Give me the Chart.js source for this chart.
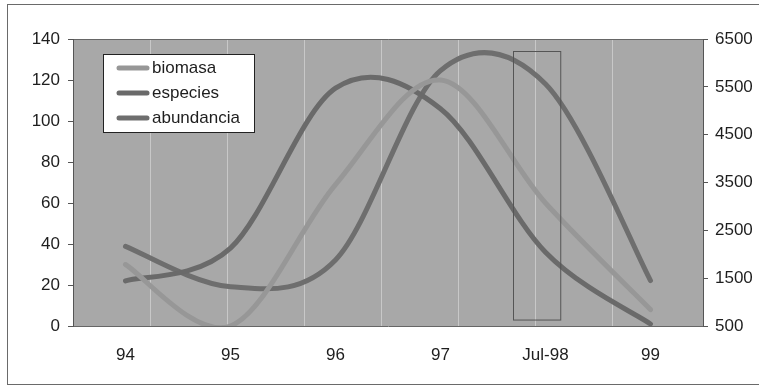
<!DOCTYPE html>
<html>
<head>
<meta charset="utf-8">
<script src="https://cdn.jsdelivr.net/npm/chart.js@4.4.1/dist/chart.umd.min.js"></script>
<style>
  html, body { margin: 0; padding: 0; background: #fff; overflow: hidden; }
  #wrap { position: relative; width: 759px; height: 388px; }
  #frame {
    position: absolute; left: 7px; top: 4px; width: 800px; height: 381px;
    border: 1px solid #6a6a6a; box-sizing: border-box;
  }
  canvas { position: absolute; left: 0; top: 0; }
</style>
</head>
<body>
<div id="wrap">
  <div id="frame"></div>
  <canvas id="chart" width="759" height="388"></canvas>
</div>
<script>
// años del muestreo
const categories = ['94', '95', '96', '97', 'Jul-98', '99'];

// eje izquierdo
const biomasa = [30, 0, 69, 120, 60, 8];
const especies = [22, 38, 116, 106, 36, 1];

// eje derecho
const abundancia = [2165, 1320, 1880, 5840, 5560, 1450];

const leftTicks = [0, 20, 40, 60, 80, 100, 120, 140];
const rightTicks = [500, 1500, 2500, 3500, 4500, 5500, 6500];

// recuadro sobre Jul-98 (índice de categoría, valor del eje izquierdo)
const boxX = [3.69, 4.14];
const boxY = [3, 134];

const axisFont = { family: 'Liberation Sans, Arial, sans-serif', size: 17 };
const textColor = '#1e1e1e';

// fondo gris del área de trazado
const plotBackground = {
  id: 'plotBackground',
  beforeDraw(chart) {
    const { ctx, chartArea: a } = chart;
    ctx.save();
    ctx.fillStyle = '#a8a8a8';
    ctx.fillRect(a.left, a.top, a.right - a.left, a.bottom - a.top);
    ctx.restore();
  }
};

// suavizado Catmull-Rom uniforme: puntos de control a 1/6 de la diferencia entre vecinos
const uniformSpline = {
  id: 'uniformSpline',
  beforeDatasetDraw(chart, args) {
    const pts = args.meta.data;
    const line = args.meta.dataset;
    const n = pts.length;
    for (let i = 0; i < n; i++) {
      const prev = pts[Math.max(i - 1, 0)];
      const next = pts[Math.min(i + 1, n - 1)];
      const dx = (next.x - prev.x) / 6;
      const dy = (next.y - prev.y) / 6;
      pts[i].cp1x = pts[i].x - dx;
      pts[i].cp1y = pts[i].y - dy;
      pts[i].cp2x = pts[i].x + dx;
      pts[i].cp2y = pts[i].y + dy;
    }
    line._pointsUpdated = true;
    line._path = undefined;
  }
};

// rectángulo fino alrededor de Jul-98
const highlightBox = {
  id: 'highlightBox',
  afterDatasetsDraw(chart) {
    const { ctx, scales } = chart;
    const x0 = scales.x.getPixelForValue(boxX[0]);
    const x1 = scales.x.getPixelForValue(boxX[1]);
    const y0 = scales.y.getPixelForValue(boxY[1]);
    const y1 = scales.y.getPixelForValue(boxY[0]);
    ctx.save();
    ctx.strokeStyle = '#555';
    ctx.lineWidth = 1;
    ctx.strokeRect(Math.round(x0) + 0.5, Math.round(y0) + 0.5, x1 - x0, y1 - y0);
    ctx.restore();
  }
};

// leyenda dentro del área de trazado
const boxLegend = {
  id: 'boxLegend',
  afterDraw(chart) {
    const { ctx, chartArea: a } = chart;
    const left = a.left + 30, top = a.top + 15, w = 151, h = 78;
    ctx.save();
    ctx.fillStyle = '#fff';
    ctx.fillRect(left, top, w, h);
    ctx.strokeStyle = '#222';
    ctx.lineWidth = 1;
    ctx.strokeRect(left + 0.5, top + 0.5, w, h);
    ctx.font = `${axisFont.size}px ${axisFont.family}`;
    ctx.textBaseline = 'middle';
    chart.data.datasets.forEach((ds, i) => {
      const y = top + 14 + i * 25;
      ctx.strokeStyle = ds.borderColor;
      ctx.lineWidth = 5;
      ctx.lineCap = 'round';
      ctx.beginPath();
      ctx.moveTo(left + 16, y);
      ctx.lineTo(left + 44, y);
      ctx.stroke();
      ctx.fillStyle = textColor;
      ctx.fillText(ds.label, left + 49, y);
    });
    ctx.restore();
  }
};

const lineStyle = {
  borderWidth: 5,
  pointRadius: 0,
  tension: 0.4,
  borderCapStyle: 'round',
  borderJoinStyle: 'round',
  fill: false
};

new Chart(document.getElementById('chart').getContext('2d'), {
  type: 'line',
  data: {
    labels: categories,
    datasets: [
      { label: 'biomasa', data: biomasa, borderColor: '#979797', yAxisID: 'y', ...lineStyle },
      { label: 'especies', data: especies, borderColor: '#6a6a6a', yAxisID: 'y', ...lineStyle },
      { label: 'abundancia', data: abundancia, borderColor: '#6e6e6e', yAxisID: 'y2', ...lineStyle }
    ]
  },
  options: {
    responsive: false,
    animation: false,
    layout: { padding: { top: 39, left: 0, right: 0, bottom: 0 } },
    plugins: {
      legend: { display: false },
      tooltip: { enabled: false }
    },
    scales: {
      x: {
        type: 'category',
        offset: true,
        grid: { display: false },
        border: { display: true, color: '#666', width: 1 },
        ticks: { color: textColor, font: axisFont, padding: 11, maxRotation: 0 },
        afterFit: s => { s.height = 62; }
      },
      xg: {
        type: 'linear',
        position: 'top',
        min: 0,
        max: 8.18,
        grid: { color: 'rgba(225,225,225,0.55)', lineWidth: 1, drawTicks: false },
        border: { display: true, color: '#666', width: 1 },
        ticks: { display: false, stepSize: 1 },
        afterFit: s => { s.height = 0; }
      },
      y: {
        position: 'left',
        min: 0,
        max: 140,
        afterBuildTicks: s => { s.ticks = leftTicks.map(v => ({ value: v })); },
        grid: { drawOnChartArea: false, drawTicks: true, tickLength: 5, color: '#555' },
        border: { display: true, color: '#555', width: 1 },
        ticks: { color: textColor, font: axisFont, padding: 8 },
        afterFit: s => { s.width = 73; }
      },
      y2: {
        position: 'right',
        min: 500,
        max: 6500,
        afterBuildTicks: s => { s.ticks = rightTicks.map(v => ({ value: v })); },
        grid: { drawOnChartArea: false, drawTicks: true, tickLength: 5, color: '#555' },
        border: { display: true, color: '#555', width: 1 },
        ticks: { color: textColor, font: axisFont, padding: 7, callback: v => String(v) },
        afterFit: s => { s.width = 56; }
      }
    }
  },
  plugins: [plotBackground, uniformSpline, highlightBox, boxLegend]
});
</script>
</body>
</html>
